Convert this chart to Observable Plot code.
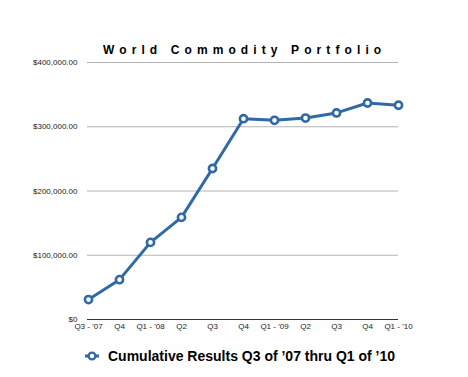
<!DOCTYPE html>
<html>
<head>
<meta charset="utf-8">
<script src="https://cdn.jsdelivr.net/npm/d3@7"></script>
<script src="https://cdn.jsdelivr.net/npm/@observablehq/plot@0.6"></script>
<style>
  body { margin: 0; background: #fff; font-family: "Liberation Sans", Arial, Helvetica, sans-serif; }
  #wrap { width: 468px; height: 377px; overflow: hidden; }
  #title { box-sizing: border-box; height: 56px; padding-top: 44px; padding-left: 103px; font-size: 12px; line-height: 12px; font-weight: bold; letter-spacing: 5.1px; color: #000; white-space: nowrap; }
  #legend { box-sizing: border-box; height: 41px; padding-top: 13px; padding-left: 84px; font-size: 14px; line-height: 14px; font-weight: bold; color: #000; white-space: nowrap; display: flex; align-items: flex-start; }
  #legend svg { margin-right: 8px; margin-top: 1px; }
</style>
</head>
<body>
<div id="wrap">
  <div id="title">World Commodity Portfolio</div>
  <div id="chart"></div>
  <div id="legend"></div>
</div>
<script>
const quarters = ["Q3 - '07", "Q4 ", "Q1 - '08", "Q2 ", "Q3 ", "Q4  ", "Q1 - '09", "Q2  ", "Q3  ", "Q4   ", "Q1 - '10"];
const values = [31000, 62000, 120000, 159000, 235000, 312500, 310000, 313500, 321500, 337000, 333500];
const yTicks = [0, 100000, 200000, 300000, 400000];
const seriesName = "Cumulative Results Q3 of ’07 thru Q1 of ’10";
const color = "#3069a5";

const data = quarters.map((q, i) => ({q, v: values[i]}));
const fmt = d => d === 0 ? "$0" : "$" + d3.format(",.2f")(d);

const chart = Plot.plot({
  width: 468,
  height: 280,
  marginTop: 6,
  marginBottom: 17,
  marginLeft: 87,
  marginRight: 70,
  style: {fontFamily: "'Liberation Sans', Arial, Helvetica, sans-serif", fontSize: "8px", color: "#222", background: "#fff"},
  x: {type: "point", domain: quarters, padding: 0, label: null},
  y: {domain: [0, 400000], label: null},
  marks: [
    Plot.ruleY(yTicks.filter(d => d > 0), {stroke: "#b4b4b4", strokeWidth: 1}),
    Plot.ruleY([0], {stroke: "#333", strokeWidth: 1.2}),
    Plot.axisY({ticks: yTicks, tickFormat: fmt, tickSize: 0, tickPadding: 10, label: null}),
    Plot.axisX({tickSize: 0, tickPadding: 4, tickFormat: d => d.trim(), label: null}),
    Plot.line(data, {x: "q", y: "v", stroke: color, strokeWidth: 3}),
    Plot.dot(data, {x: "q", y: "v", r: 3.6, fill: "#fff", stroke: color, strokeWidth: 2.6})
  ]
});
document.getElementById("chart").appendChild(chart);

const legend = document.getElementById("legend");
const ns = "http://www.w3.org/2000/svg";
const ls = document.createElementNS(ns, "svg");
ls.setAttribute("width", 16);
ls.setAttribute("height", 12);
const ln = document.createElementNS(ns, "line");
ln.setAttribute("x1", 1); ln.setAttribute("x2", 15); ln.setAttribute("y1", 6); ln.setAttribute("y2", 6);
ln.setAttribute("stroke", color); ln.setAttribute("stroke-width", 3);
const c = document.createElementNS(ns, "circle");
c.setAttribute("cx", 8); c.setAttribute("cy", 6); c.setAttribute("r", 3.4);
c.setAttribute("fill", "#fff"); c.setAttribute("stroke", color); c.setAttribute("stroke-width", 2.4);
ls.appendChild(ln); ls.appendChild(c);
legend.appendChild(ls);
const sp = document.createElement("span");
sp.textContent = seriesName;
legend.appendChild(sp);
</script>
</body>
</html>
